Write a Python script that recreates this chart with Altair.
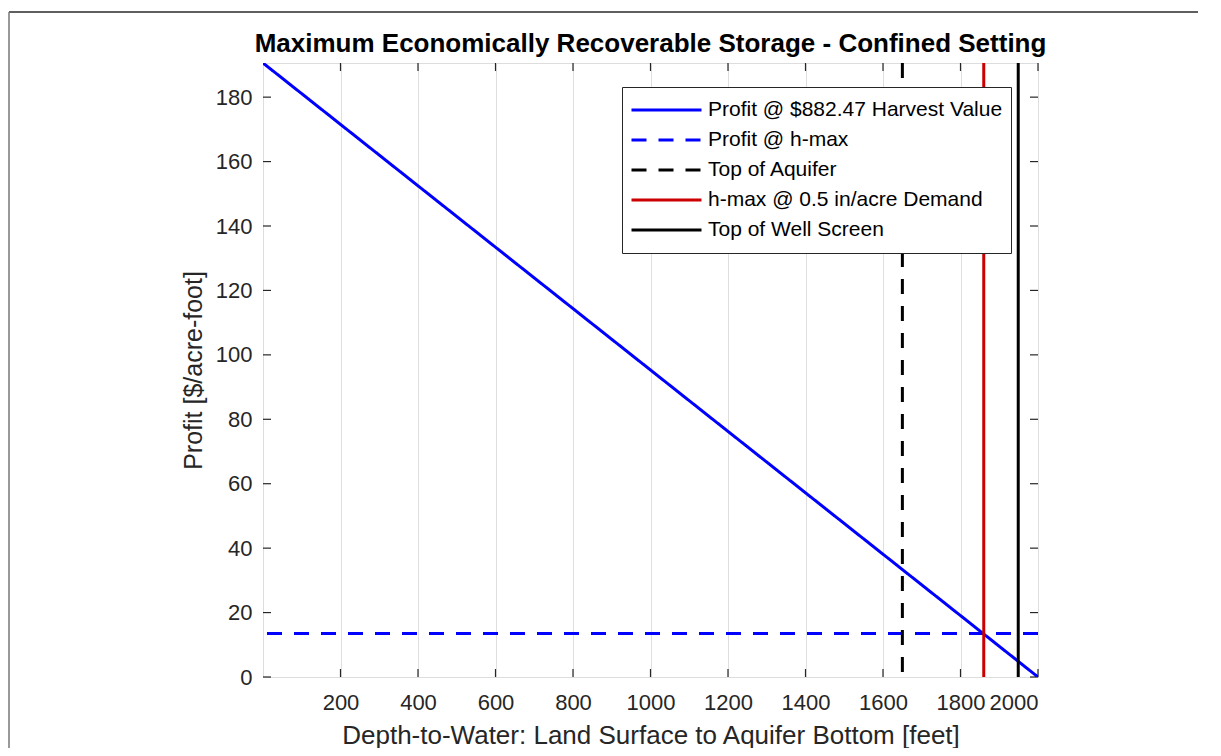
import altair as alt
import pandas as pd

# ---- data ----
series_names = [
    "Profit @ $882.47 Harvest Value",
    "Profit @ h-max",
    "Top of Aquifer",
    "h-max @ 0.5 in/acre Demand",
    "Top of Well Screen",
]
series_colors = ["#0000FF", "#0000FF", "#000000", "#CC0000", "#000000"]
series_dash = [[1, 0], [15, 12], [15, 12], [1, 0], [1, 0]]

profit_depth = [0, 2000]
profit_value = [190.6, 0.0]

hmax_profit = [13.5]
top_of_aquifer = [1650]
hmax_depth = [1860]
top_of_well_screen = [1949]

x_ticks = [200, 400, 600, 800, 1000, 1200, 1400, 1600, 1800, 2000]
y_ticks = [0, 20, 40, 60, 80, 100, 120, 140, 160, 180]

X_DOMAIN = [0, 2000]
Y_DOMAIN = [0, 190.6]

W, H = 775, 614
FONT = "Liberation Sans"

profit_df = pd.DataFrame({"x": profit_depth, "y": profit_value, "series": series_names[0]})
hprof_df = pd.DataFrame({"y": hmax_profit, "series": series_names[1]})
vlines_df = pd.DataFrame({
    "x": top_of_aquifer + hmax_depth + top_of_well_screen,
    "series": [series_names[2], series_names[3], series_names[4]],
})
xt_df = pd.DataFrame({"x": x_ticks})
yt_df = pd.DataFrame({"y": y_ticks})

x_scale = alt.Scale(domain=X_DOMAIN, nice=False, zero=False)
y_scale = alt.Scale(domain=Y_DOMAIN, nice=False, zero=False)


def make_legend():
    return alt.Legend(
        title=None,
        orient="none",
        legendX=359,
        legendY=24,
        symbolType="stroke",
        symbolSize=4900,
        symbolStrokeWidth=3,
        labelFontSize=21,
        labelFont=FONT,
        labelColor="#000000",
        labelLimit=600,
        labelOffset=5,
        clipHeight=30,
        rowPadding=0,
        padding=8,
        strokeColor="#262626",
        fillColor="#FFFFFF",
    )


color_enc = alt.Color(
    "series:N",
    scale=alt.Scale(domain=series_names, range=series_colors),
    legend=make_legend(),
)
dash_enc = alt.StrokeDash(
    "series:N",
    scale=alt.Scale(domain=series_names, range=series_dash),
    legend=make_legend(),
)

x_axis = alt.Axis(
    title="Depth-to-Water: Land Surface to Aquifer Bottom [feet]",
    values=x_ticks,
    format="d",
    labelOverlap=False,
    grid=True,
    gridColor="#DFDFDF",
    gridWidth=1,
    ticks=False,
    domain=False,
    labelFontSize=22,
    labelFont=FONT,
    labelColor="#262626",
    labelPadding=15,
    titleFontSize=26,
    titleFont=FONT,
    titleFontWeight="normal",
    titleColor="#262626",
    titlePadding=9,
)
y_axis = alt.Axis(
    title="Profit [$/acre-foot]",
    values=y_ticks,
    format="d",
    labelOverlap=False,
    grid=False,
    ticks=False,
    domain=False,
    labelFontSize=22,
    labelFont=FONT,
    labelColor="#262626",
    labelPadding=11,
    titleFontSize=25,
    titleFont=FONT,
    titleFontWeight="normal",
    titleColor="#262626",
    titlePadding=9,
)

profit_line = alt.Chart(profit_df).mark_line(strokeWidth=3, clip=True).encode(
    x=alt.X("x:Q", scale=x_scale, axis=x_axis),
    y=alt.Y("y:Q", scale=y_scale, axis=y_axis),
    color=color_enc,
    strokeDash=dash_enc,
)
hprof_rule = alt.Chart(hprof_df).mark_rule(strokeWidth=3).encode(
    y=alt.Y("y:Q", scale=y_scale, axis=y_axis),
    color=color_enc,
    strokeDash=dash_enc,
)
vrules = alt.Chart(vlines_df).mark_rule(strokeWidth=3).encode(
    x=alt.X("x:Q", scale=x_scale, axis=x_axis),
    color=color_enc,
    strokeDash=dash_enc,
)

TICK = 8
TC = "#262626"
bottom_ticks = alt.Chart(xt_df).mark_rule(color=TC, strokeWidth=1.2).encode(
    x=alt.X("x:Q", scale=x_scale, axis=x_axis), y=alt.value(H), y2=alt.value(H - TICK)
)
top_ticks = alt.Chart(xt_df).mark_rule(color=TC, strokeWidth=1.2).encode(
    x=alt.X("x:Q", scale=x_scale, axis=x_axis), y=alt.value(0), y2=alt.value(TICK)
)
left_ticks = alt.Chart(yt_df).mark_rule(color=TC, strokeWidth=1.2).encode(
    y=alt.Y("y:Q", scale=y_scale, axis=y_axis), x=alt.value(0), x2=alt.value(TICK)
)
right_ticks = alt.Chart(yt_df).mark_rule(color=TC, strokeWidth=1.2).encode(
    y=alt.Y("y:Q", scale=y_scale, axis=y_axis), x=alt.value(W), x2=alt.value(W - TICK)
)

# figure window frame (top and left edges)
frame_top = alt.Chart(pd.DataFrame({"k": [0]})).mark_rule(color="#2A2A2A", strokeWidth=1.5).encode(
    x=alt.value(-254), x2=alt.value(W + 160), y=alt.value(-51)
)
frame_left = alt.Chart(pd.DataFrame({"k": [0]})).mark_rule(color="#777777", strokeWidth=1.5).encode(
    x=alt.value(-254), y=alt.value(-51), y2=alt.value(H + 71)
)

chart = alt.layer(
    frame_top, frame_left,
    bottom_ticks, top_ticks, left_ticks, right_ticks,
    profit_line, hprof_rule, vrules,
).properties(
    width=W,
    height=H,
    title=alt.TitleParams(
        "Maximum Economically Recoverable Storage - Confined Setting",
        anchor="middle",
        frame="group",
        fontSize=26,
        font=FONT,
        fontWeight="bold",
        color="#000000",
        baseline="alphabetic",
        offset=8,
        dy=75,
    ),
    autosize=alt.AutoSizeParams(type="none"),
    padding={"left": 255, "top": 55, "right": 160, "bottom": 71},
).configure_view(
    stroke="#262626", strokeWidth=1.5
).configure(
    background="#FFFFFF"
)

chart.save("out.html", embed_options={"renderer": "svg", "actions": False})
